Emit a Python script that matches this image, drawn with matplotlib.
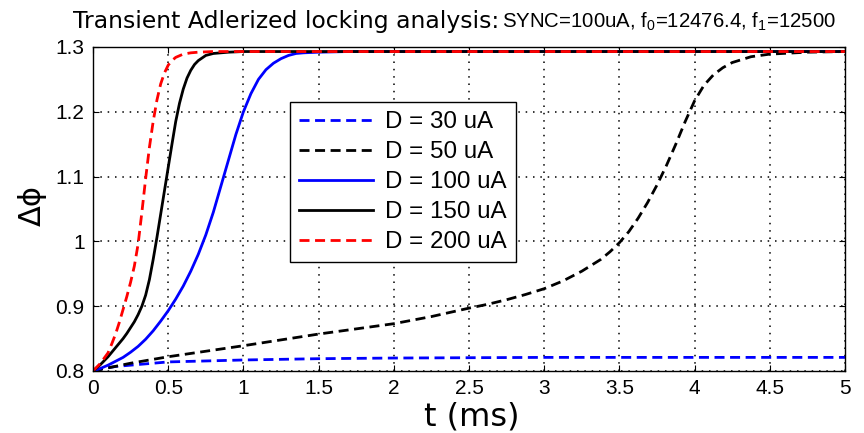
import matplotlib
matplotlib.use("Agg")
import matplotlib.pyplot as plt

# ---- data ----
t_30 = [0, 0.05, 0.1, 0.15, 0.25, 0.5, 1.0, 1.5, 2.0, 3.0, 4.0, 5.0]
v_30 = [0.8, 0.803, 0.805, 0.807, 0.809, 0.814, 0.817, 0.819, 0.820, 0.821, 0.821, 0.821]

t_50 = [0, 0.25, 0.5, 1.0, 1.5, 2.0, 2.25, 2.5, 2.625, 2.75, 2.875, 3.0, 3.125,
        3.25, 3.375, 3.4375, 3.5, 3.5625, 3.625, 3.6875, 3.75, 3.8125, 3.875,
        3.9375, 4.0, 4.0625, 4.125, 4.1875, 4.25, 4.375, 4.5, 4.75, 5.0]
v_50 = [0.8, 0.812, 0.822, 0.839, 0.857, 0.873, 0.884, 0.897, 0.903, 0.910, 0.918,
        0.927, 0.939, 0.954, 0.972, 0.984, 0.998, 1.015, 1.036, 1.06, 1.087, 1.117,
        1.15, 1.185, 1.217, 1.241, 1.257, 1.268, 1.276, 1.285, 1.289, 1.292, 1.293]

t_100 = [0, 0.05, 0.1, 0.15, 0.2, 0.25, 0.3, 0.35, 0.4, 0.45, 0.5, 0.55, 0.6,
         0.65, 0.7, 0.75, 0.8, 0.85, 0.9, 0.95, 1.0, 1.05, 1.1, 1.15, 1.2, 1.25,
         1.3, 1.35, 1.4, 1.5, 1.7, 5.0]
v_100 = [0.8, 0.804, 0.809, 0.815, 0.821, 0.829, 0.838, 0.849, 0.862, 0.877, 0.893,
         0.911, 0.931, 0.954, 0.98, 1.01, 1.045, 1.085, 1.125, 1.165, 1.2, 1.228,
         1.25, 1.265, 1.275, 1.282, 1.287, 1.29, 1.291, 1.292, 1.293, 1.293]

t_150 = [0, 0.05, 0.1, 0.15, 0.2, 0.225, 0.25, 0.275, 0.3, 0.325, 0.35, 0.375,
         0.4, 0.425, 0.45, 0.475, 0.5, 0.525, 0.55, 0.575, 0.6, 0.625, 0.65, 0.675,
         0.7, 0.75, 0.8, 0.9, 1.0, 5.0]
v_150 = [0.8, 0.81, 0.822, 0.836, 0.85, 0.858, 0.867, 0.876, 0.887, 0.9, 0.917,
         0.941, 0.972, 1.006, 1.042, 1.078, 1.114, 1.15, 1.185, 1.213, 1.235, 1.252,
         1.264, 1.273, 1.279, 1.287, 1.29, 1.292, 1.293, 1.293]

t_200 = [0, 0.05, 0.1, 0.125, 0.15, 0.175, 0.2, 0.225, 0.25, 0.275, 0.3, 0.325,
         0.35, 0.375, 0.4, 0.425, 0.45, 0.475, 0.5, 0.525, 0.55, 0.6, 0.65, 0.7,
         0.8, 5.0]
v_200 = [0.8, 0.812, 0.828, 0.842, 0.857, 0.875, 0.895, 0.915, 0.937, 0.962, 0.996,
         1.045, 1.097, 1.145, 1.185, 1.218, 1.243, 1.26, 1.272, 1.279, 1.284, 1.289,
         1.291, 1.292, 1.293, 1.293]

labels = ["D = 30 uA", "D = 50 uA", "D = 100 uA", "D = 150 uA", "D = 200 uA"]
xticks = [0, 0.5, 1, 1.5, 2, 2.5, 3, 3.5, 4, 4.5, 5]
xticklabels = ["0", "0.5", "1", "1.5", "2", "2.5", "3", "3.5", "4", "4.5", "5"]
yticks = [0.8, 0.9, 1.0, 1.1, 1.2, 1.3]
yticklabels = ["0.8", "0.9", "1", "1.1", "1.2", "1.3"]

title_main = "Transient Adlerized locking analysis:"
title_sub = r"SYNC=100uA, f$_0$=12476.4, f$_1$=12500"

plt.rcParams["mathtext.fontset"] = "custom"
plt.rcParams["mathtext.rm"] = "Liberation Sans"
plt.rcParams["mathtext.it"] = "Liberation Sans"

W, H = 864, 433
fig = plt.figure(figsize=(W / 100, H / 100), dpi=100)
ax = fig.add_axes([93 / W, (H - 371) / H, 752 / W, 324 / H])

lw = 2.0
dash = (0, (3.6, 2.0))
ax.plot(t_30, v_30, color="#0000ff", lw=lw, linestyle=dash, label=labels[0])
ax.plot(t_50, v_50, color="black", lw=lw, linestyle=dash, label=labels[1])
ax.plot(t_100, v_100, color="#0000ff", lw=lw, linestyle="-", label=labels[2])
ax.plot(t_150, v_150, color="black", lw=lw, linestyle="-", label=labels[3])
ax.plot(t_200, v_200, color="#ff0000", lw=lw, linestyle=dash, label=labels[4])

ax.set_xlim(0, 5)
ax.set_ylim(0.8, 1.3)
ax.set_xticks(xticks)
ax.set_xticklabels(xticklabels)
ax.set_yticks(yticks)
ax.set_yticklabels(yticklabels)
ax.tick_params(direction="in", top=True, right=True, length=4, width=0.8,
               labelsize=15, pad=6)
for lab in ax.get_xticklabels() + ax.get_yticklabels():
    lab.set_family("Liberation Sans")
for sp in ax.spines.values():
    sp.set_linewidth(1.0)
    sp.set_color("black")

ax.grid(True, color="black", linestyle=(0, (1, 3.8)), linewidth=1.1)
ax.set_axisbelow(True)

leg = ax.legend(loc="upper left", bbox_to_anchor=((290 - 93) / 752, (371 - 102) / 324),
                borderaxespad=0, fancybox=False, framealpha=1, edgecolor="black",
                prop={"family": "Liberation Sans", "size": 17.4},
                handlelength=3.05, handletextpad=0.5, labelspacing=0.33,
                borderpad=0.38)
leg.get_frame().set_linewidth(1.0)

fig.text(73 / W, 1 - 28 / H, title_main, family="DejaVu Sans", fontsize=16.9,
         ha="left", va="baseline")
fig.text(502 / W, 1 - 28 / H, title_sub, family="Liberation Sans", fontsize=14.7,
         ha="left", va="baseline")

fig.text(472 / W, 8 / H, "t (ms)", family="DejaVu Sans", fontsize=23,
         ha="center", va="baseline")
fig.text(32 / W, 1 - 205 / H, "Δϕ", family="DejaVu Sans", fontsize=22,
         ha="center", va="center", rotation=90)

fig.savefig("out.png", dpi=100)
